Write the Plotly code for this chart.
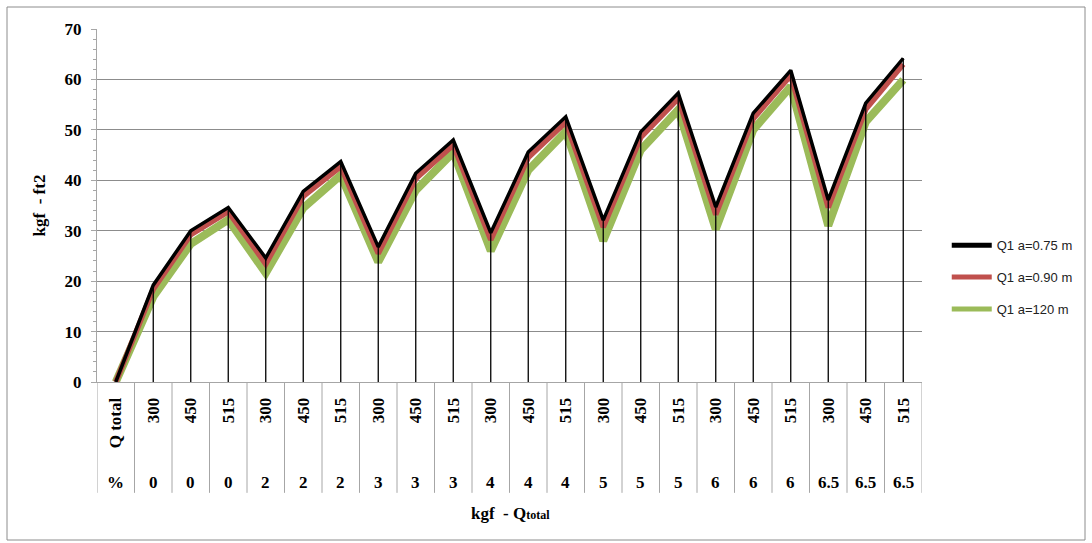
import plotly.graph_objects as go

# ---------------- data ----------------
cat_q = ["Q total", "300", "450", "515", "300", "450", "515", "300", "450", "515",
         "300", "450", "515", "300", "450", "515", "300", "450", "515", "300", "450", "515"]
cat_pct = ["%", "0", "0", "0", "2", "2", "2", "3", "3", "3", "4", "4", "4",
           "5", "5", "5", "6", "6", "6", "6.5", "6.5", "6.5"]

q1_075 = [0, 19.2, 30.0, 34.6, 24.6, 37.8, 43.7, 26.8, 41.4, 48.0, 29.6, 45.6, 52.6,
          32.1, 49.6, 57.3, 34.7, 53.3, 61.8, 36.1, 55.3, 64.2]
q1_090 = [0, 18.4, 29.2, 33.8, 23.4, 36.8, 42.7, 25.5, 40.3, 47.0, 28.2, 44.5, 51.5,
          30.7, 48.5, 56.2, 33.2, 52.2, 60.8, 34.6, 54.1, 63.0]
q1_120 = [0, 16.9, 27.4, 32.2, 21.6, 34.5, 41.0, 23.8, 38.0, 45.5, 26.0, 42.0, 49.7,
          28.0, 46.0, 54.0, 30.3, 50.0, 58.6, 31.0, 51.6, 59.9]

series_names = ["Q1 a=0.75 m", "Q1 a=0.90 m", "Q1 a=120 m"]
series_colors = ["#000000", "#c0504d", "#9bbb59"]

y_ticks = [0, 10, 20, 30, 40, 50, 60, 70]

# ---------------- figure ----------------
x_idx = list(range(len(cat_q)))
fig = go.Figure()

# series lines (green at back, black on top)
fig.add_trace(go.Scatter(x=x_idx, y=q1_120, mode="lines", showlegend=False,
                         line=dict(color=series_colors[2], width=8)))
fig.add_trace(go.Scatter(x=x_idx, y=q1_090, mode="lines", showlegend=False,
                         line=dict(color=series_colors[1], width=5.5)))

# drop lines from the top series down to 0
dx, dy = [], []
for i in x_idx[1:]:
    dx += [i, i, None]
    dy += [0, q1_075[i], None]
fig.add_trace(go.Scatter(x=dx, y=dy, mode="lines", showlegend=False,
                         line=dict(color="#000000", width=1.3)))

fig.add_trace(go.Scatter(x=x_idx, y=q1_075, mode="lines", showlegend=False,
                         line=dict(color=series_colors[0], width=3.5)))

# legend entries
for i, (nm, col) in enumerate(zip(series_names, series_colors)):
    fig.add_trace(go.Scatter(x=[None], y=[None], mode="lines", name=nm,
                             legendgroup=str(i),
                             line=dict(color=col, width=5)))

# table grid lines under the x axis
for k in range(len(cat_q) + 1):
    fig.add_shape(type="line", xref="x", yref="paper",
                  x0=k - 0.5, x1=k - 0.5, y0=0, y1=-0.314,
                  line=dict(color="#a6a6a6", width=1))

# second label row
for i, t in enumerate(cat_pct):
    fig.add_annotation(x=i, y=-0.286, xref="x", yref="paper", text="<b>" + t + "</b>",
                       showarrow=False, yanchor="middle", xanchor="center",
                       font=dict(family="Liberation Serif", size=17, color="#000000"))

# x axis title
fig.add_annotation(x=(510 - 97) / 825, y=(382 - 513) / 353, xref="paper", yref="paper",
                   text="<b>kgf  - Q<span style='font-size:12px'>total</span></b>",
                   showarrow=False, xanchor="center", yanchor="middle",
                   font=dict(family="Liberation Serif", size=17, color="#000000"))

# outer chart border
fig.add_shape(type="rect", xref="paper", yref="paper",
              x0=(7 - 97) / 825, x1=(1085 - 97) / 825,
              y0=(382 - 540) / 353, y1=(382 - 7) / 353,
              line=dict(color="#8c8c8c", width=1), fillcolor="rgba(0,0,0,0)")

fig.update_layout(
    width=1092, height=543,
    margin=dict(l=97, r=170, t=29, b=161),
    paper_bgcolor="white", plot_bgcolor="white",
    legend=dict(x=1.03, y=0.43, xanchor="left", yanchor="top",
                font=dict(family="Liberation Sans", size=13, color="#222222"),
                tracegroupgap=12, itemwidth=40, bgcolor="rgba(0,0,0,0)"),
    xaxis=dict(range=[-0.5, len(cat_q) - 0.5], tickmode="array", tickvals=x_idx,
               ticktext=["<b>" + t + "</b>" for t in cat_q], tickangle=-90,
               ticks="", ticklabelstandoff=8, showgrid=False, zeroline=False,
               showline=True, linecolor="#a6a6a6", linewidth=1,
               tickfont=dict(family="Liberation Serif", size=17, color="#000000")),
    yaxis=dict(range=[0, 70], tickmode="array", tickvals=y_ticks,
               ticktext=["<b>%d</b>" % v for v in y_ticks],
               showgrid=True, gridcolor="#8c8c8c", gridwidth=1, zeroline=False,
               showline=True, linecolor="#a6a6a6", linewidth=1,
               ticks="outside", ticklen=5, tickcolor="#a6a6a6",
               minor=dict(dtick=2, ticks="outside", ticklen=3, tickcolor="#a6a6a6", showgrid=False),
               tickfont=dict(family="Liberation Serif", size=17, color="#000000"),
               ticklabelstandoff=6,
               title=dict(text="<b>kgf  - ft2</b>", standoff=14,
                          font=dict(family="Liberation Serif", size=17, color="#000000"))),
)

fig.write_html("out.html")
